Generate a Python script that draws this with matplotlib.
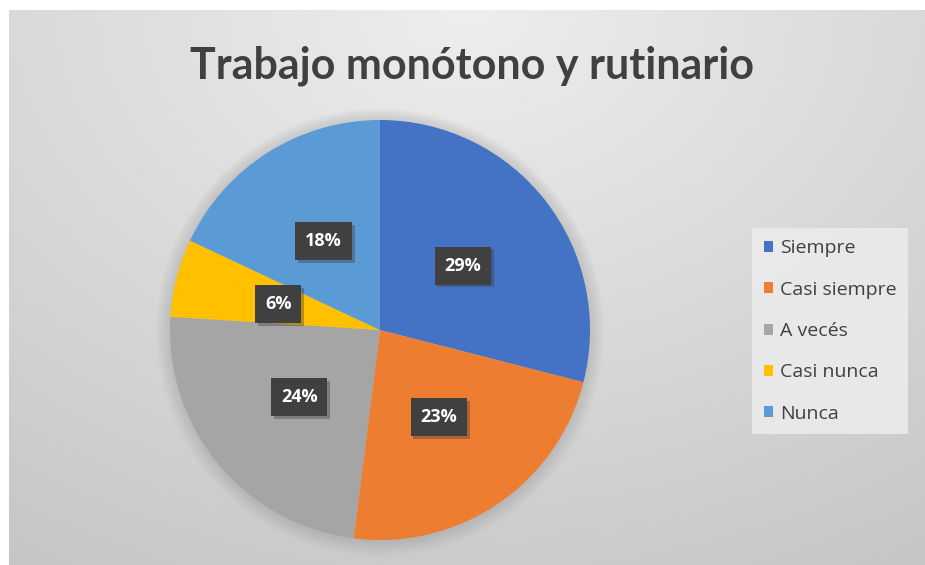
import numpy as np
import matplotlib.pyplot as plt
import matplotlib.patheffects as pe
from matplotlib.patches import Circle

# Data
labels = ['Siempre', 'Casi siempre', 'A vecés', 'Casi nunca', 'Nunca']
values = [29, 23, 24, 6, 18]
colors = ['#4472C4', '#ED7D31', '#A5A5A5', '#FFC000', '#5B9BD5']
title = 'Trabajo monótono y rutinario'

W, H = 925, 565
fig = plt.figure(figsize=(W / 100, H / 100), dpi=100)
fig.patch.set_facecolor('white')

# Gradient background (chart area starts after small white margin)
bg = fig.add_axes([9 / W, 0, (W - 9) / W, (H - 10) / H])
yy, xx = np.mgrid[0:1:300j, 0:1:500j]
d = np.sqrt(((xx - 0.5) * 1.1) ** 2 + (yy * 0.9) ** 2)
shade = 0.93 - 0.15 * np.clip(d, 0, 1.2)
bg.imshow(shade, cmap='gray', vmin=0, vmax=1, aspect='auto', extent=[0, 1, 1, 0])
bg.set_axis_off()

# Pie
cx, cy, r = 380, 330, 210
m = 1.15
ax = fig.add_axes([(cx - r * m) / W, (H - cy - r * m) / H, 2 * m * r / W, 2 * m * r / H])

# soft shadow
for k in range(12):
    ax.add_patch(Circle((0.0, -0.01), 1.0 + 0.006 * k, color='#9a9a9a',
                        alpha=0.035, lw=0, zorder=0))

wedges, texts = ax.pie(values, colors=colors, startangle=90, counterclock=False,
                       wedgeprops=dict(linewidth=0), radius=1.0)
ax.set_xlim(-m, m)
ax.set_ylim(-m, m)
ax.set_aspect('equal')

total = sum(values)
for w, v in zip(wedges, values):
    ang = np.deg2rad((w.theta1 + w.theta2) / 2)
    x, y = 0.5 * np.cos(ang), 0.5 * np.sin(ang)
    t = ax.text(x, y, f'{v / total:.0%}', ha='center', va='center',
                fontsize=13, fontweight='bold', color='white', family='Open Sans',
                bbox=dict(boxstyle='square,pad=0.55', fc='#404040', ec='none'),
                zorder=5)
    t.get_bbox_patch().set_path_effects(
        [pe.SimplePatchShadow(offset=(2, -2), shadow_rgbFace='#333333', alpha=0.35), pe.Normal()])

# Title
fig.text(472 / W, 1 - 66 / H, title, ha='center', va='center',
         fontsize=31, fontweight='bold', color='#404040', family='Lato')

# Legend
leg = fig.legend(wedges, labels, loc='center left', bbox_to_anchor=(752 / W, 1 - 331 / H),
                 frameon=True, fancybox=False, labelspacing=1.2,
                 handlelength=0.5, handleheight=0.5, handletextpad=0.35,
                 borderpad=0.6, borderaxespad=0,
                 prop=dict(family='Open Sans', size=14))
leg.get_frame().set_facecolor('#ebebeb')
leg.get_frame().set_edgecolor('none')
leg.get_frame().set_alpha(0.9)
for t in leg.get_texts():
    t.set_color('#404040')

fig.savefig('out.png', dpi=100)
